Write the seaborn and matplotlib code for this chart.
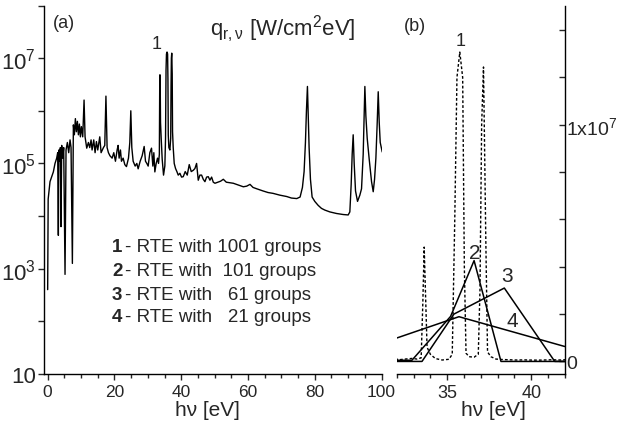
import matplotlib
matplotlib.use("Agg")
import matplotlib.pyplot as plt
import matplotlib.ticker as mticker
import numpy as np
import pandas as pd
import seaborn as sns

sns.set_theme(style="ticks")
plt.rcParams["font.family"] = ["Liberation Sans", "DejaVu Sans"]
plt.rcParams["mathtext.fontset"] = "custom"
plt.rcParams["mathtext.rm"] = "Liberation Sans"
plt.rcParams["mathtext.it"] = "Liberation Sans:italic"

# -----------------------------
# Data
# -----------------------------
# spectrum with 1001 groups, hv [eV] and q [W/cm2 eV]
hv_1001 = [
    0.0, 0.15, 0.7, 1.2, 1.7, 2.2, 2.7, 3.0, 3.2, 3.35, 3.6, 3.8, 4.0, 4.2, 4.5, 4.8,
    5.2, 5.5, 5.9, 6.3, 6.7, 7.0, 7.4, 7.7, 8.0, 8.3, 8.6, 8.9, 9.2, 9.5, 9.8, 10.1,
    10.5, 10.9, 11.2, 11.7, 12.2, 12.6, 13.0, 13.3, 13.8, 14.2, 14.6, 15.0, 15.6, 16.0,
    16.7, 17.1, 17.45, 17.8, 18.2, 18.65, 19.3, 19.8, 20.3, 20.8, 21.1, 21.4, 21.8,
    22.1, 22.6, 23.1, 23.6, 24.2, 24.6, 24.9, 25.2, 25.6, 26.2, 26.7, 27.1, 27.7, 28.3,
    28.9, 29.3, 29.7, 30.1, 30.6, 31.1, 31.5, 31.8, 32.1, 32.5, 32.9, 33.2, 33.45,
    33.55, 33.63, 33.72, 33.8, 34.0, 34.3, 34.7, 35.1, 35.3, 35.45, 35.58, 35.75, 35.92,
    36.02, 36.12, 36.3, 36.6, 36.85, 36.95, 37.05, 37.16, 37.3, 37.4, 37.6, 37.9, 38.3,
    38.7, 39.1, 39.6, 40.1, 40.6, 41.2, 41.8, 42.4, 43.0, 43.6, 44.1, 44.6, 45.1, 45.6,
    46.1, 46.6, 47.1, 47.6, 48.1, 48.6, 49.1, 49.6, 50.1, 51.0, 51.8, 52.6, 53.5, 54.5,
    55.6, 57.0, 58.6, 59.6, 60.6, 61.5, 62.6, 64.5, 66.0, 67.5, 69.5, 71.6, 73.0, 74.6,
    75.6, 76.3, 76.8, 77.2, 77.5, 77.8, 78.0, 78.3, 78.7, 79.2, 80.0, 81.0, 82.0, 83.0,
    84.5, 86.5, 88.5, 90.0, 90.5, 90.9, 91.2, 91.5, 91.8, 92.2, 92.8, 93.5, 94.0, 94.5,
    94.8, 95.0, 95.3, 95.7, 96.3, 97.0, 97.5, 97.9, 98.3, 98.7, 99.0, 99.3, 99.6, 100.0,
    100.2,
]
q_1001 = [
    4.0e2, 2.1e4, 4.5e4, 5.6e4, 6.9e4, 1.0e5, 1.26e5, 1.6e5, 4.3e3, 1.8e5, 1.1e5, 2.0e5,
    6.3e3, 2.2e5, 1.26e5, 2.0e5, 7.8e2, 1.8e5, 2.5e5, 1.6e5, 2.8e5, 2.0e5, 1.26e3, 5.4e5,
    3.5e5, 7.1e5, 4.0e5, 6.3e5, 3.5e5, 5.6e5, 3.2e5, 5.0e5, 3.2e5, 1.6e6, 3.2e5, 1.95e5,
    2.5e5, 2.0e5, 2.8e5, 1.8e5, 2.8e5, 1.6e5, 2.6e5, 1.8e5, 3.2e5, 1.6e5, 2.0e5, 2.2e5,
    1.9e6, 2.0e5, 1.6e5, 1.4e5, 1.26e5, 1.6e5, 1.1e5, 1.8e5, 2.2e5, 1.26e5, 1.8e5, 1.1e5,
    1.26e5, 9.5e4, 8.7e4, 1.26e5, 2.5e5, 1.0e6, 2.0e5, 1.1e5, 8.9e4, 1.0e5, 7.9e4, 1.1e5,
    1.4e5, 2.1e5, 1.1e5, 1.0e5, 8.9e4, 1.6e5, 1.95e5, 8.9e4, 1.6e5, 6.9e4, 1.0e5, 1.26e5,
    1.0e5, 1.5e5, 2.5e6, 4.83e6, 2.5e6, 6.0e5, 3.0e5, 1.2e5, 6.0e4, 9.0e4, 3.0e5, 6.0e6,
    1.2e7, 1.307e7, 1.2e7, 4.0e6, 3.5e5, 2.0e5, 1.8e5, 3.0e5, 3.0e6, 1.0e7, 1.244e7,
    5.0e6, 4.0e5, 2.0e5, 1.0e5, 8.0e4, 7.0e4, 6.0e4, 6.5e4, 5.5e4, 5.6e4, 7.0e4, 6.0e4,
    9.5e4, 7.0e4, 7.4e4, 8.0e4, 1.0e5, 4.8e4, 6.0e4, 6.0e4, 5.0e4, 4.5e4, 5.5e4, 5.6e4,
    4.8e4, 5.5e4, 4.4e4, 4.2e4, 4.4e4, 4.6e4, 5.0e4, 4.4e4, 4.3e4, 4.2e4, 3.9e4, 3.6e4,
    3.7e4, 4.0e4, 3.5e4, 3.3e4, 3.0e4, 2.8e4, 2.7e4, 2.5e4, 2.35e4, 2.2e4, 2.15e4, 2.3e4,
    3.5e4, 7.0e4, 2.5e5, 1.0e6, 2.9e6, 1.0e6, 2.0e5, 5.0e4, 2.3e4, 1.9e4, 1.6e4, 1.4e4,
    1.3e4, 1.2e4, 1.12e4, 1.07e4, 1.05e4, 1.2e4, 4.0e4, 1.5e5, 3.5e5, 1.0e5, 3.0e4, 1.9e4,
    2.5e4, 3.3e4, 1.5e5, 1.0e6, 2.9e6, 8.0e5, 3.0e5, 1.2e5, 4.5e4, 2.9e4, 5.0e4, 1.26e5,
    6.0e5, 2.3e6, 6.0e5, 2.5e5, 1.9e5, 1.65e5,
]

# coarser group calculations (panel b)
hv_101 = [32.0, 32.9, 35.2, 36.6, 38.2, 42.0]
q_101 = [0.05e6, 0.05e6, 1.9e6, 4.26e6, 0.0, 0.0]

hv_61 = [32.0, 33.5, 35.4, 38.4, 41.4, 42.0]
q_61 = [0.0, 0.0, 2.0e6, 3.1e6, 0.0, 0.0]

hv_21 = [32.0, 35.7, 42.0]
q_21 = [0.99e6, 1.89e6, 0.63e6]

legend_nums = ["1", "2", "3", "4"]
legend_text = ["- RTE with 1001 groups", "- RTE with  101 groups",
               "- RTE with   61 groups", "- RTE with   21 groups"]

spec = pd.DataFrame({"hv": hv_1001, "q": q_1001})

# -----------------------------
# Figure
# -----------------------------
fig = plt.figure(figsize=(6.2, 4.35), dpi=100)
ax1 = fig.add_axes([0.0715, 0.138, 0.545, 0.847])
ax2 = fig.add_axes([0.640, 0.138, 0.271, 0.845])

# ---- panel (a) ----
ax1.set_yscale("log")
sns.lineplot(data=spec, x="hv", y="q", ax=ax1, color="black", lw=1.0,
             estimator=None, sort=False)
ax1.set_xlim(-1, 100.2)
ax1.set_ylim(10, 1e8)
ax1.yaxis.set_major_locator(mticker.FixedLocator([10, 1e3, 1e5, 1e7]))
ax1.yaxis.set_major_formatter(mticker.FixedFormatter(
    ["10", "10$^3$", "10$^5$", "10$^7$"]))
ax1.yaxis.set_minor_locator(mticker.FixedLocator([1e2, 1e4, 1e6, 1e8]))
ax1.yaxis.set_minor_formatter(mticker.NullFormatter())
ax1.xaxis.set_major_locator(mticker.MultipleLocator(20))
ax1.xaxis.set_minor_locator(mticker.MultipleLocator(5))
ax1.tick_params(axis="y", which="major", labelsize=16, length=4, width=1, pad=2)
ax1.tick_params(axis="y", which="minor", length=4, width=1)
ax1.tick_params(axis="x", which="major", labelsize=12.5, length=4, width=1, pad=3)
ax1.tick_params(axis="x", which="minor", length=3, width=1)
ax1.spines["top"].set_visible(False)
ax1.spines["right"].set_visible(False)
for s in ["left", "bottom"]:
    ax1.spines[s].set_linewidth(1.0)
    ax1.spines[s].set_color("black")
ax1.set_xlabel("h\u03bd [eV]", fontsize=15)
ax1.xaxis.set_label_coords(0.482, -0.07)
ax1.set_ylabel("")

ax1.text(0.057, 0.954, "(a)", transform=ax1.transAxes, fontsize=13,
         ha="center", va="center")
ax1.text(0.707, 0.937, r"q$_{\mathrm{r,\nu}}$ [W/cm$^2$eV]", transform=ax1.transAxes,
         fontsize=16, ha="center", va="center")
ax1.text(32.7, 1.9e7, "1", fontsize=13, ha="center", va="center")

ys = [0.345, 0.280, 0.217, 0.155]
for num, txt, y in zip(legend_nums, legend_text, ys):
    ax1.text(0.200, y, num, transform=ax1.transAxes, fontsize=13.5,
             fontweight="bold", ha="left", va="center")
    ax1.text(0.240, y, txt, transform=ax1.transAxes, fontsize=13.5,
             ha="left", va="center")

# ---- panel (b) ----
sns.lineplot(x=hv_1001, y=q_1001, ax=ax2, color="black", lw=1.0,
             linestyle=(0, (2, 1.5)), estimator=None, sort=False)
sns.lineplot(x=hv_101, y=q_101, ax=ax2, color="black", lw=1.1,
             estimator=None, sort=False)
sns.lineplot(x=hv_61, y=q_61, ax=ax2, color="black", lw=1.1,
             estimator=None, sort=False)
sns.lineplot(x=hv_21, y=q_21, ax=ax2, color="black", lw=1.1,
             estimator=None, sort=False)
ax2.set_xlim(32, 42)
ax2.set_ylim(-0.53e6, 1.5e7)
ax2.xaxis.set_major_locator(mticker.FixedLocator([35, 40]))
ax2.xaxis.set_minor_locator(mticker.MultipleLocator(1))
ax2.yaxis.tick_right()
ax2.yaxis.set_major_locator(mticker.FixedLocator([0, 1e7]))
ax2.yaxis.set_major_formatter(mticker.FixedFormatter(["0", "1x10$^7$"]))
ax2.yaxis.set_minor_locator(mticker.MultipleLocator(2e6))
ax2.tick_params(axis="y", which="both", direction="in", length=4, width=1, pad=1,
                labelsize=14, left=False, right=True)
ax2.tick_params(axis="x", which="major", labelsize=13, length=4, width=1, pad=3)
ax2.tick_params(axis="x", which="minor", length=3, width=1)
ax2.spines["top"].set_visible(False)
ax2.spines["left"].set_visible(False)
for s in ["right", "bottom"]:
    ax2.spines[s].set_linewidth(1.0)
    ax2.spines[s].set_color("black")
ax2.set_xlabel("h\u03bd [eV]", fontsize=15)
ax2.xaxis.set_label_coords(0.578, -0.07)
ax2.set_ylabel("")

ax2.text(0.109, 0.949, "(b)", transform=ax2.transAxes, fontsize=13,
         ha="center", va="center")
ax2.text(35.77, 13.55e6, "1", fontsize=13, ha="center", va="center")
ax2.text(36.66, 4.59e6, "2", fontsize=15, ha="center", va="center")
ax2.text(38.57, 3.62e6, "3", fontsize=15, ha="center", va="center")
ax2.text(38.86, 1.71e6, "4", fontsize=15, ha="center", va="center")

fig.savefig("out.png", dpi=100)
plt.close(fig)
